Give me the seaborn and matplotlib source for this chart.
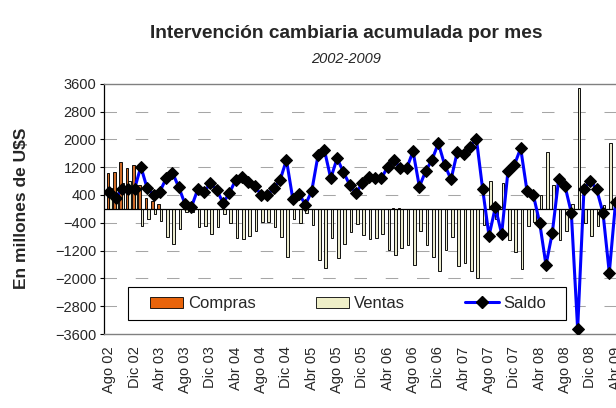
import pandas as pd
import matplotlib
matplotlib.use("Agg")
import matplotlib.pyplot as plt
import seaborn as sns
from matplotlib.patches import Patch, Rectangle
from matplotlib.lines import Line2D

# DATOS (mensuales, Ago 02 -> Abr 09)

meses = list(range(81))

compras = [1020, 1065, 1350, 1175, 1255, 690, 305, 225, 135, 0,
           0, 0, 0, 0, 0, 0, 0, 0, 0, 0,
           0, 0, 0, 0, 0, 0, 0, 0, 0, 0,
           0, 0, 0, 0, 0, 0, 0, 0, 0, 0,
           0, 0, 0, 0, 0, 40, 40, 0, 0, 0,
           0, 0, 0, 0, 0, 0, 0, 0, 0, 0,
           0, 0, 0, 0, 0, 0, 0, 0, 0, 0,
           0, 0, 0, 0, 0, 0, 0, 0, 0, 0,
           0]

ventas = [590, 600, 750, 800, 700, -485, -300, -145, -338, -815,
          -1000, -580, -100, -75, -520, -485, -715, -530, -147, -420,
          -846, -875, -770, -627, -380, -380, -530, -805, -1385, -300,
          -397, -109, -475, -1470, -1690, -846, -1422, -1010, -670, -440,
          -751, -860, -846, -720, -1183, -1340, -1134, -1040, -1615, -630,
          -1050, -1380, -1800, -1170, -810, -1643, -1566, -1778, -1997, -450,
          790, -300, 745, -900, -1235, -1720, -485, -390, 405, 1640,
          690, -900, -625, 130, 3475, -400, -770, -505, 117, 1890,
          -130]

saldo = [495, 305, 573, 573, 573, 1215, 592, 400, 495, 880,
         1042, 621, 132, 63, 564, 495, 737, 544, 170, 458,
         842, 918, 783, 650, 410, 410, 592, 832, 1407, 295,
         429, 120, 520, 1550, 1690, 880, 1455, 1060, 688, 455,
         750, 910, 895, 880, 1215, 1407, 1168, 1168, 1655, 639,
         1090, 1415, 1890, 1263, 850, 1647, 1580, 1795, 2025, 560,
         -775, 46, -722, 1100, 1263, 1744, 520, 400, -397, -1615,
         -684, 852, 659, -109, -3457, 564, 812, 564, -109, -1836,
         207]

etiquetas = ["Ago 02", "Dic 02", "Abr 03", "Ago 03", "Dic 03", "Abr 04", "Ago 04",
             "Dic 04", "Abr 05", "Ago 05", "Dic 05", "Abr 06", "Ago 06", "Dic 06",
             "Abr 07", "Ago 07", "Dic 07", "Abr 08", "Ago 08", "Dic 08", "Abr 09"]

naranja = '#E8630A'
crema = '#EFEFC8'

df = pd.DataFrame({
    'mes': meses * 2,
    'serie': ['Compras'] * len(meses) + ['Ventas'] * len(meses),
    'valor': compras + ventas,
})

sns.set_style("white")
plt.rcParams['font.family'] = ['Liberation Sans', 'DejaVu Sans']

fig = plt.figure(figsize=(6.16, 4.08), dpi=100)
ax = fig.add_axes([104/616, 74/408, 512/616, 250.2/408])

# LINEAS DE GRILLA
for v in range(-2800, 2801, 800):
    ax.axhline(v, color='#a6a6a6', lw=0.75, ls=(0, (12, 18)), zorder=0)

sns.barplot(data=df, x='mes', y='valor', hue='serie',
            palette={'Compras': naranja, 'Ventas': crema},
            width=0.8, edgecolor='black', linewidth=0.65,
            errorbar=None, legend=False, ax=ax, zorder=2)

ax.axhline(0, color='black', lw=0.9, zorder=3)

sns.lineplot(x=meses, y=saldo, color='#0000FF', lw=2.2, marker='D',
             markersize=5.8, markerfacecolor='black', markeredgecolor='black',
             ax=ax, zorder=4)

ax.set_xlim(-0.82, 80.06)
ax.set_ylim(-3600, 3600)
ax.set_yticks(range(-3600, 3601, 800))
ax.set_xticks(range(0, 81, 4))
ax.set_xticklabels(etiquetas, rotation=90, fontsize=10.5)
ax.tick_params(axis='y', labelsize=10.5, direction='out', length=3, width=0.8,
               color='black', pad=2.5, left=True)
ax.tick_params(axis='x', length=0, pad=9)
ax.set_xlabel('')
ax.set_ylabel('')

ax.spines['left'].set_color('black')
ax.spines['left'].set_linewidth(0.9)
ax.spines['top'].set_color('#808080')
ax.spines['top'].set_linewidth(1.0)
ax.spines['bottom'].set_color('#808080')
ax.spines['bottom'].set_linewidth(1.0)
ax.spines['right'].set_visible(False)

# LEYENDA (marco dibujado aparte)
marco = Rectangle((24/512, 14/250.2), 438/512, 33/250.2, transform=ax.transAxes,
                  facecolor='white', edgecolor='black', lw=0.8, zorder=9)
ax.add_patch(marco)

handles = [Patch(facecolor=naranja, edgecolor='black', lw=0.6),
           Patch(facecolor=crema, edgecolor='black', lw=0.6),
           Line2D([0], [0], color='#0000FF', lw=2.2, marker='D', ms=5.8,
                  mfc='black', mec='black')]
leg = ax.legend(handles, ['Compras', 'Ventas', 'Saldo'], ncol=3,
                loc='center left', bbox_to_anchor=(46/512, 30.5/250.2),
                borderaxespad=0, borderpad=0, frameon=False, fontsize=12,
                handlelength=2.0, handleheight=0.65, handletextpad=0.3,
                columnspacing=3.6)
leg.set_zorder(10)

# TITULOS
fig.text(346/616, 1 - 33/408, 'Intervención cambiaria acumulada por mes',
         ha='center', va='center', fontsize=13.8, fontweight='bold')
fig.text(346/616, 1 - 59/408, '2002-2009', ha='center', va='center',
         fontsize=10.5, style='italic')
fig.text(22/616, 1 - 208/408, 'En millones de U$S', rotation=90,
         ha='center', va='center', fontsize=12.5, fontweight='bold')

plt.savefig("out.png", dpi=100)
plt.close()
